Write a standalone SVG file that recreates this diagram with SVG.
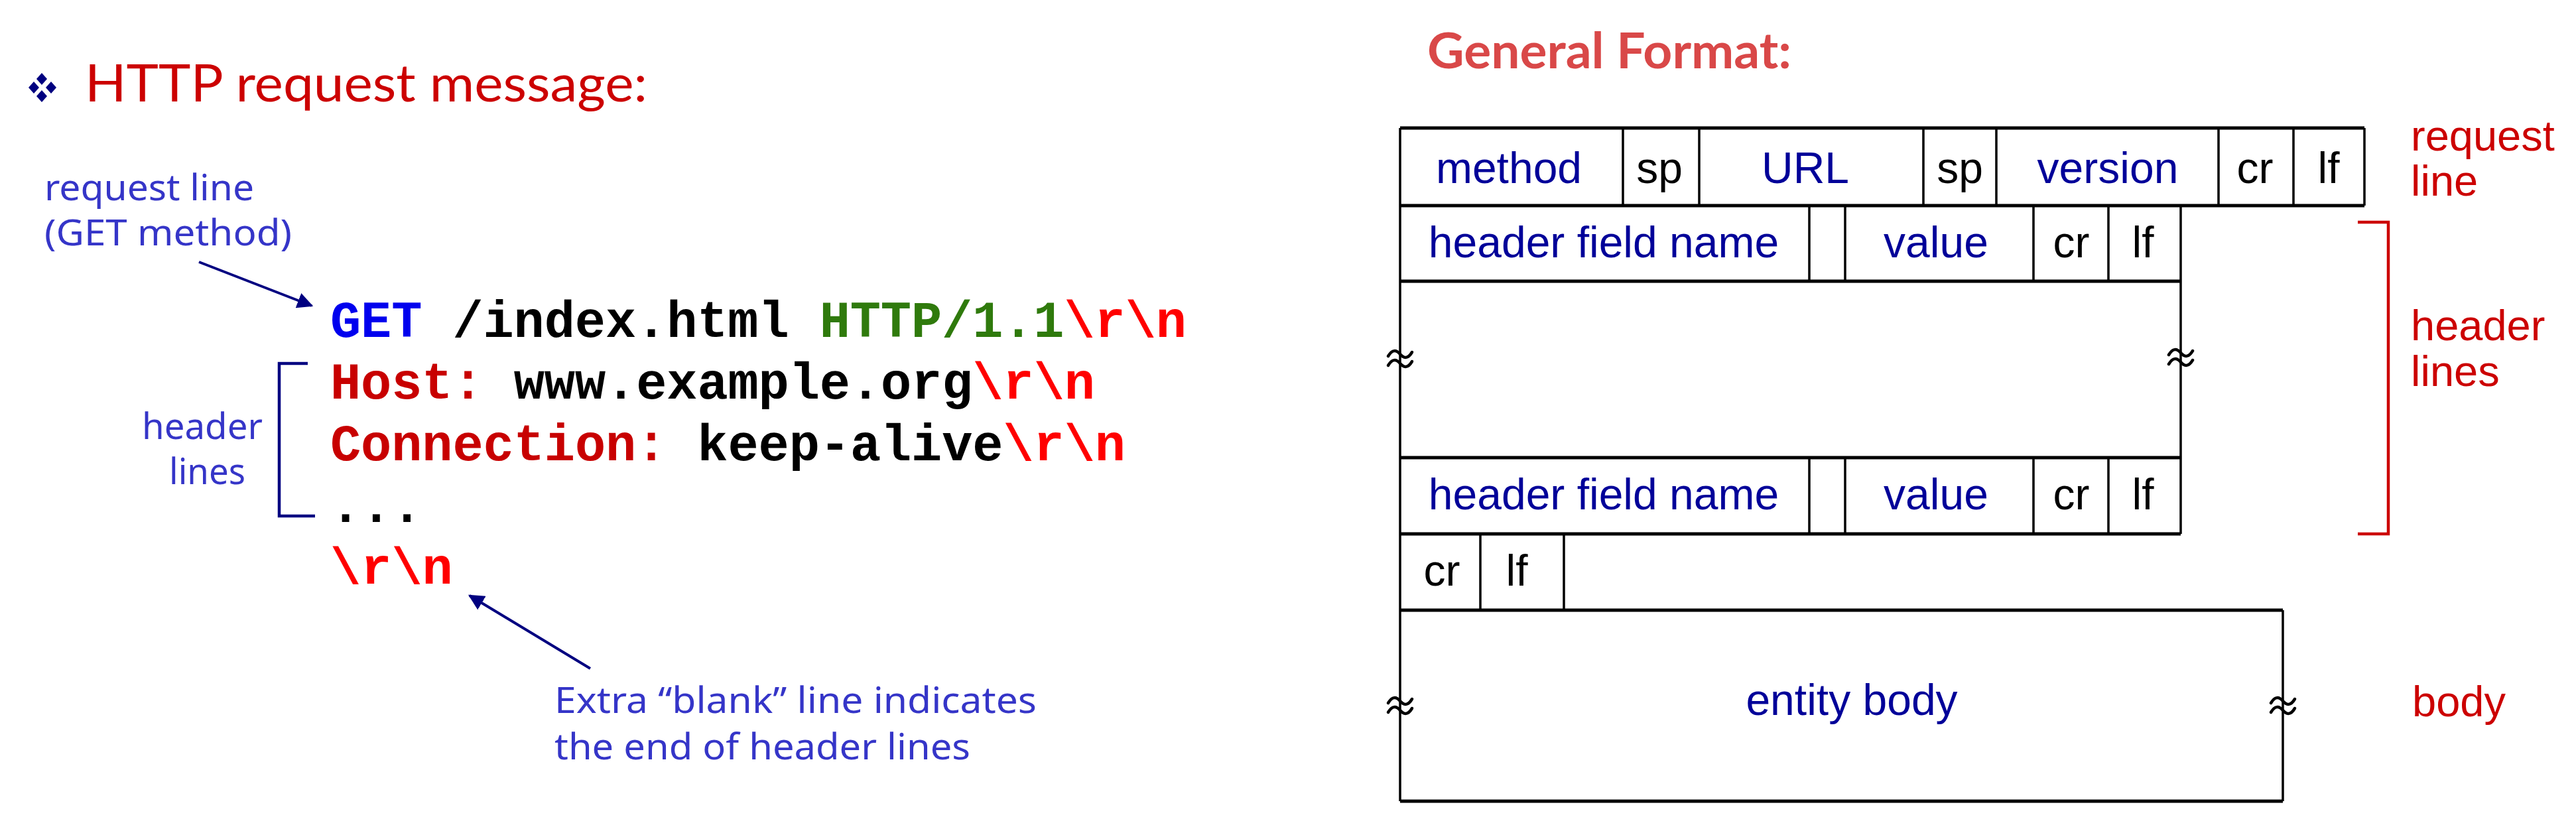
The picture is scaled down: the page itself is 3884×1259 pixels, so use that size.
<svg xmlns="http://www.w3.org/2000/svg" width="3884" height="1259" viewBox="0 0 3884 1259">
<style>
.title{font-family:Lato,"Open Sans","Liberation Sans",sans-serif;fill:#CC0000;font-size:78px}
.gf{font-family:Lato,"Open Sans","Liberation Sans",sans-serif;fill:#D94848;font-size:74px;font-weight:bold}
.note{font-family:"Noto Sans","Open Sans",sans-serif;fill:#3535C8;font-size:55px}
.code{font-family:"Liberation Mono","DejaVu Sans Mono",monospace;font-size:77px;font-weight:bold;white-space:pre}
.blue{fill:#0000EE}.blk{fill:#000}.grn{fill:#2F7A0C}.red{fill:#FF0000}.dred{fill:#C80000}
.cell{font-family:"Liberation Sans",Arial,sans-serif;font-size:66px;text-anchor:middle}
.cb{fill:#000099}.ck{fill:#000}
.lbl{font-family:"Liberation Sans",Arial,sans-serif;font-size:65px;fill:#CC0000}
.hl{stroke:#000;stroke-width:5;fill:none}
.vl{stroke:#000;stroke-width:3.5;fill:none}
.brk{stroke:#000;stroke-width:4.5;fill:none;stroke-linecap:round}
.arr{stroke:#000080;stroke-width:4;fill:none}
</style>
<defs>
<marker id="ah" viewBox="0 0 10 10" refX="9" refY="5" markerWidth="6" markerHeight="6" orient="auto" markerUnits="strokeWidth">
<path d="M0,0 L10,5 L0,10 z" fill="#000080"/>
</marker>
<path id="wave" d="M-18,-4 c6,-10 12,-10 18,-3 s12,7 18,-3 M-18,10 c6,-10 12,-10 18,-3 s12,7 18,-3" class="brk"/>
</defs>
<rect width="3884" height="1259" fill="#fff"/>

<g id="bullet" fill="#000080">
<path d="M63,110 l8,9 l-8,9 l-8,-9 z"/>
<path d="M43,132 l8,-9 l8,9 l-8,9 z"/>
<path d="M69,132 l8,-9 l8,9 l-8,9 z"/>
<path d="M63,136 l8,9 l-8,9 l-8,-9 z"/>
</g>
<g id="title"><text class="title" x="128" y="153" textLength="848" lengthAdjust="spacingAndGlyphs">HTTP request message:</text></g>

<g id="note-request-line">
<text class="note" x="67" y="302" textLength="316" lengthAdjust="spacingAndGlyphs">request line</text>
<text class="note" x="67" y="370" textLength="373" lengthAdjust="spacingAndGlyphs">(GET method)</text>
</g>
<g id="note-header-lines">
<text class="note" x="214" y="662" textLength="182" lengthAdjust="spacingAndGlyphs">header</text>
<text class="note" x="255" y="730" textLength="115" lengthAdjust="spacingAndGlyphs">lines</text>
</g>
<g id="note-blank">
<text class="note" x="836" y="1075" textLength="727" lengthAdjust="spacingAndGlyphs">Extra “blank” line indicates</text>
<text class="note" x="836" y="1145" textLength="627" lengthAdjust="spacingAndGlyphs">the end of header lines</text>
</g>

<g id="request-code">
<text class="code" x="498" y="508" textLength="1291" lengthAdjust="spacing"><tspan class="blue">GET</tspan><tspan class="blk"> /index.html </tspan><tspan class="grn">HTTP/1.1</tspan><tspan class="red">\r\n</tspan></text>
<text class="code" x="498" y="601" textLength="1153" lengthAdjust="spacing"><tspan class="dred">Host:</tspan><tspan class="blk"> www.example.org</tspan><tspan class="red">\r\n</tspan></text>
<text class="code" x="498" y="694" textLength="1199" lengthAdjust="spacing"><tspan class="dred">Connection:</tspan><tspan class="blk"> keep-alive</tspan><tspan class="red">\r\n</tspan></text>
<text class="code blk" x="498" y="787">...</text>
<text class="code red" x="498" y="880">\r\n</text>
</g>

<g id="connectors">
<line class="arr" x1="300" y1="395" x2="470" y2="461" marker-end="url(#ah)"/>
<line class="arr" x1="890" y1="1008" x2="708" y2="898" marker-end="url(#ah)"/>
<path d="M464,548 H421 V778 H475" stroke="#000080" stroke-width="4.5" fill="none"/>
<path d="M3555,335 H3601 V805 H3555" stroke="#CC0000" stroke-width="4.5" fill="none"/>
</g>

<g id="general-format-title"><text class="gf" x="2152" y="103" textLength="549" lengthAdjust="spacingAndGlyphs">General Format:</text></g>

<g id="format-table">
<path class="hl" d="M2111,193 H3565 M2111,310 H3565 M2111,424 H3288 M2111,690 H3288 M2111,805 H3288 M2111,920 H3442 M2111,1208 H3442"/>
<path class="vl" d="M2111,193 V1208 M3565,193 V310 M3288,310 V805 M3442,920 V1208"/>
<path class="vl" d="M2447,193 V310 M2562,193 V310 M2900,193 V310 M3010,193 V310 M3345,193 V310 M3458,193 V310"/>
<path class="vl" d="M2728,310 V424 M2782,310 V424 M3066,310 V424 M3179,310 V424"/>
<path class="vl" d="M2728,690 V805 M2782,690 V805 M3066,690 V805 M3179,690 V805"/>
<path class="vl" d="M2232,805 V920 M2358,805 V920"/>
<use href="#wave" x="2111" y="541"/>
<use href="#wave" x="3288" y="539"/>
<use href="#wave" x="2111" y="1064"/>
<use href="#wave" x="3442" y="1064"/>
</g>

<g id="request-line-row">
<text class="cell cb" x="2275" y="276">method</text>
<text class="cell ck" x="2502" y="276">sp</text>
<text class="cell cb" x="2722" y="276">URL</text>
<text class="cell ck" x="2955" y="276">sp</text>
<text class="cell cb" x="3178" y="276">version</text>
<text class="cell ck" x="3400" y="276">cr</text>
<text class="cell ck" x="3511" y="276">lf</text>
</g>
<g id="header-row-1">
<text class="cell cb" x="2418" y="388">header field name</text>
<text class="cell cb" x="2919" y="388">value</text>
<text class="cell ck" x="3123" y="388">cr</text>
<text class="cell ck" x="3231" y="388">lf</text>
</g>
<g id="header-row-2">
<text class="cell cb" x="2418" y="768">header field name</text>
<text class="cell cb" x="2919" y="768">value</text>
<text class="cell ck" x="3123" y="768">cr</text>
<text class="cell ck" x="3231" y="768">lf</text>
</g>
<g id="blank-row">
<text class="cell ck" x="2174" y="883">cr</text>
<text class="cell ck" x="2287" y="883">lf</text>
</g>
<g id="entity-body"><text class="cell cb" x="2792" y="1078">entity body</text></g>

<g id="labels">
<text class="lbl" x="3635" y="227">request</text>
<text class="lbl" x="3635" y="295">line</text>
<text class="lbl" x="3635" y="513">header</text>
<text class="lbl" x="3635" y="582">lines</text>
<text class="lbl" x="3637" y="1080">body</text>
</g>
</svg>
